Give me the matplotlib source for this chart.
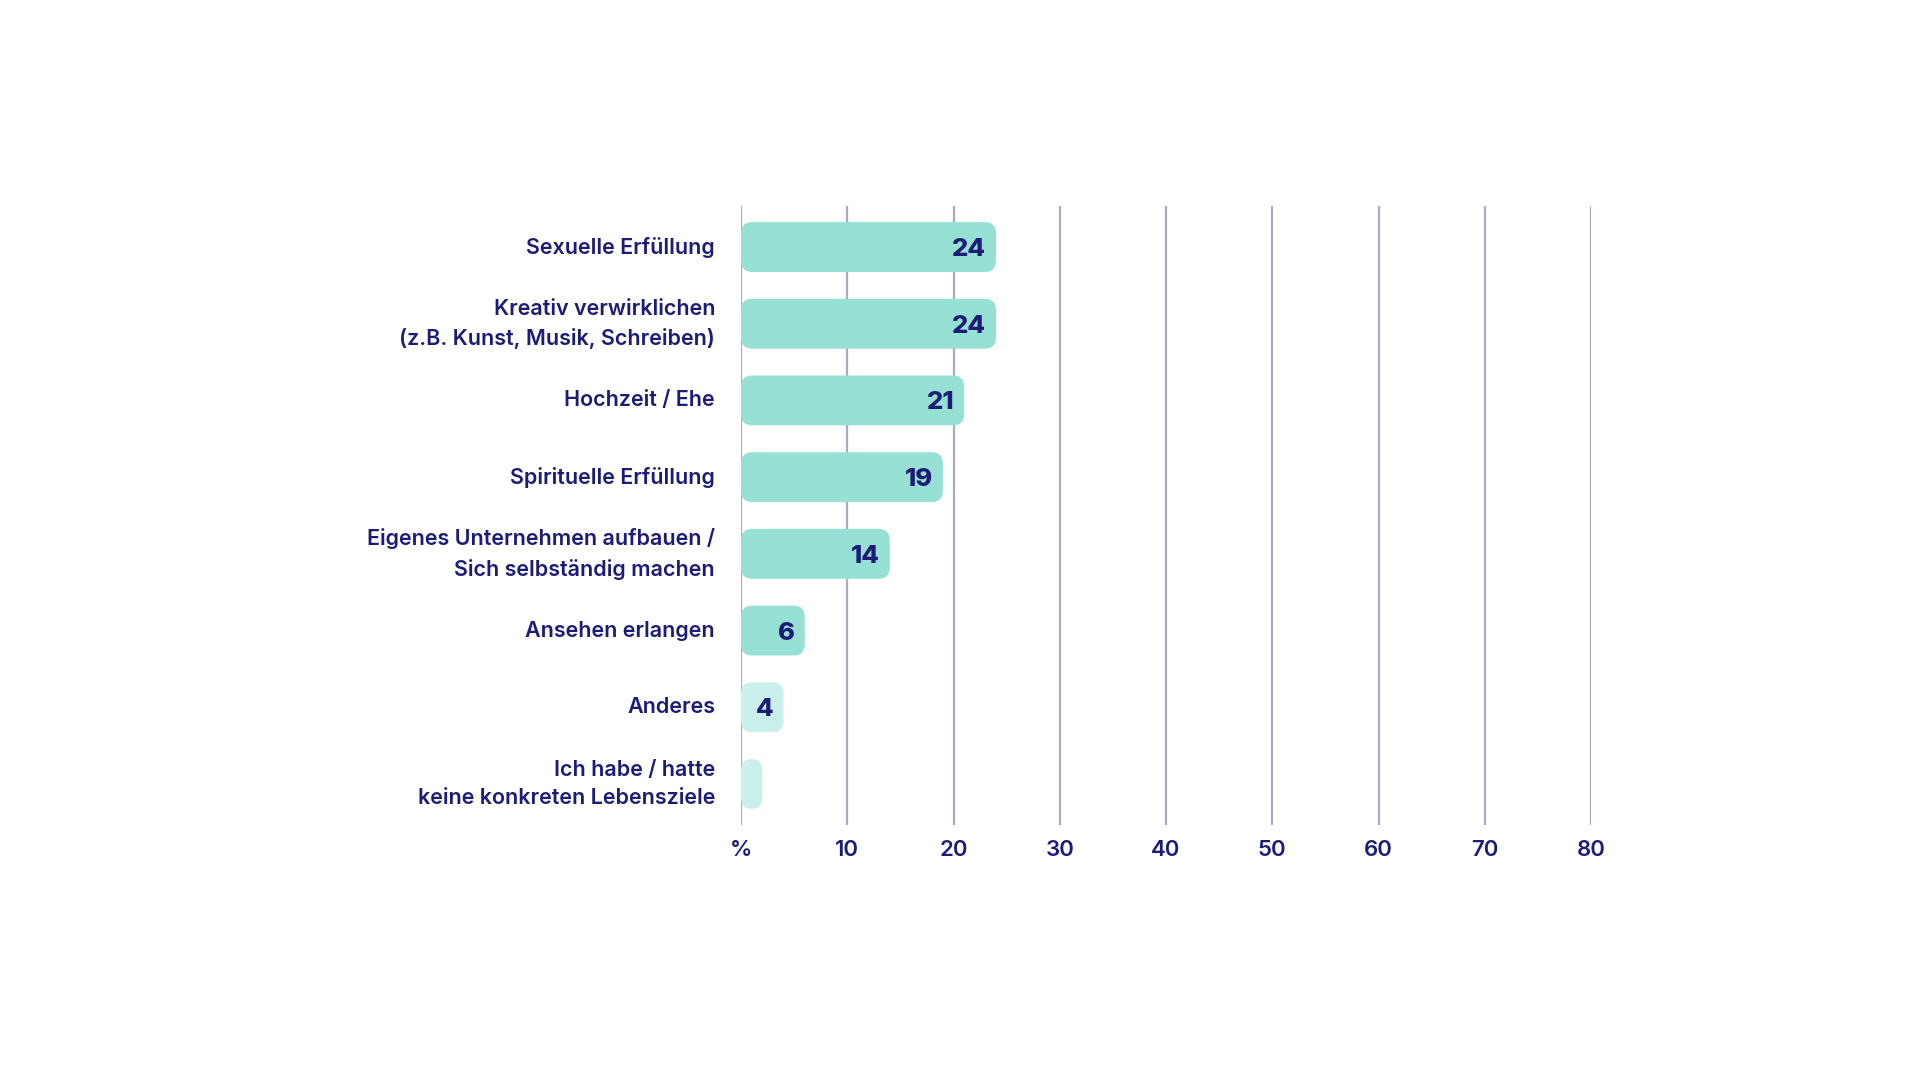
import matplotlib.pyplot as plt
from matplotlib.patches import FancyBboxPatch

plt.rcParams['font.family'] = ['Inter', 'DejaVu Sans']

labels = ["Sexuelle Erfüllung",
          "Kreativ verwirklichen\n(z.B. Kunst, Musik, Schreiben)",
          "Hochzeit / Ehe",
          "Spirituelle Erfüllung",
          "Eigenes Unternehmen aufbauen /\nSich selbständig machen",
          "Ansehen erlangen",
          "Anderes",
          "Ich habe / hatte\nkeine konkreten Lebensziele"]
values = [24, 24, 21, 19, 14, 6, 4, 2]
show_value = [True, True, True, True, True, True, True, False]
light = [False, False, False, False, False, False, True, True]

ticks = [0, 10, 20, 30, 40, 50, 60, 70, 80]
tick_labels = ["%", "10", "20", "30", "40", "50", "60", "70", "80"]

navy = "#1c1c77"
teal = "#97e1d4"
teal_light = "#c9f0ea"
gridc = "#a9abc4"

W, H = 1920, 1080
fig = plt.figure(figsize=(19.2, 10.8), dpi=100)
left, right, top, bottom = 741, 1591, 206, 825
ax = fig.add_axes([left / W, 1 - bottom / H, (right - left) / W, (bottom - top) / H])

n = len(values)
ax.set_xlim(0, 80)
ax.set_ylim(n - 1 + 0.535, -0.535)

px_x = (right - left) / 80.0
px_y = (bottom - top) / (n - 1 + 1.07)
aspect = px_x / px_y
bar_h = 0.65

for t in ticks:
    ax.axvline(t, color=gridc, lw=1.6, zorder=1)

for i, v in enumerate(values):
    r_px = min(11, v * px_x / 2.0)
    p = FancyBboxPatch((0, i - bar_h / 2), v, bar_h,
                       boxstyle="round,pad=0,rounding_size=%f" % (r_px / px_x),
                       mutation_aspect=aspect,
                       fc=teal_light if light[i] else teal, ec="none", zorder=2)
    ax.add_patch(p)
    if show_value[i]:
        ax.text(v - 10 / px_x, i, str(v), ha="right", va="center_baseline",
                fontsize=18.5, fontweight="heavy", color=navy, zorder=3)
    ax.text(-26 / px_x, i, labels[i], ha="right", va="center",
            fontsize=15.5, fontweight="semibold", color=navy, linespacing=1.55,
            clip_on=False)

ax.set_xticks(ticks)
ax.set_xticklabels(tick_labels, fontsize=16, fontweight="semibold", color=navy)
ax.tick_params(axis="x", length=0, pad=11)
ax.set_yticks([])
for s in ax.spines.values():
    s.set_visible(False)

fig.savefig("out.png", dpi=100, facecolor="white")
